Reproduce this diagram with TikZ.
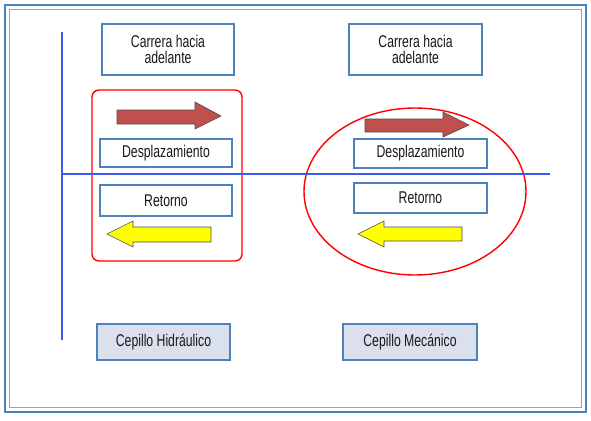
\documentclass[tikz,border=0pt]{standalone}
\usepackage{fontspec}
\setmainfont{Liberation Sans}[FakeStretch=0.72]
\definecolor{boxblue}{RGB}{79,129,189}
\definecolor{lineblue}{RGB}{60,90,240}
\definecolor{arrowred}{RGB}{192,80,77}
\definecolor{arrowyel}{RGB}{255,255,0}
\definecolor{boxfill}{RGB}{218,224,236}
\begin{document}
\begin{tikzpicture}[x=1pt,y=-1pt,
  tbox/.style={draw=boxblue,line width=2.2pt,fill=white,align=center,inner sep=0pt,
    font=\fontsize{17}{16}\selectfont,text=black!90},
  fbox/.style={tbox,fill=boxfill},
  redline/.style={draw=red,line width=1.4pt},
  axis/.style={draw=lineblue,line width=1.3pt},
  arr/.style={draw=black!70,line width=0.6pt}]
\useasboundingbox (0,0) rectangle (591,420);
% frame
\draw[boxblue,line width=2.2pt] (5,5) rectangle (586,412);
\draw[boxblue!70,line width=0.8pt] (9.5,9.5) rectangle (581.5,407.5);
% red groups
\draw[redline,rounded corners=7pt] (92,90) rectangle (242,261);
\draw[redline] (415,191.5) ellipse [x radius=111,y radius=83.5];
% axes
\coordinate (vtop) at (62,32);
\coordinate (vbot) at (62,340);
\coordinate (hl) at (62,174);
\coordinate (hr) at (550,174);
\draw[axis] (vtop) -- (vbot);
\draw[axis] (hl) -- (hr);
% boxes
\node[tbox,minimum width=132pt,minimum height=51pt] (c1) at (168,49.5) {Carrera hacia\\adelante};
\node[tbox,minimum width=133pt,minimum height=51pt] (c2) at (415.5,49.5) {Carrera hacia\\adelante};
\node[tbox,minimum width=132pt,minimum height=28pt] (d1) at (166,153) {Desplazamiento};
\node[tbox,minimum width=133pt,minimum height=29pt] (d2) at (420.5,153.5) {Desplazamiento};
\node[tbox,minimum width=132pt,minimum height=31pt] (r1) at (166,200.5) {Retorno};
\node[tbox,minimum width=133pt,minimum height=30pt] (r2) at (420.5,198) {Retorno};
\node[fbox,minimum width=133pt,minimum height=36pt] (h1) at (163.5,342) {Cepillo Hidráulico};
\node[fbox,minimum width=134pt,minimum height=36pt] (h2) at (410,342) {Cepillo Mecánico};
% red arrows (right)
\filldraw[arr,fill=arrowred] (117,110) -- (195,110) -- (195,102) -- (221,116) -- (195,129) -- (195,124) -- (117,124) -- cycle;
\filldraw[arr,fill=arrowred] (365,119) -- (443,119) -- (443,112) -- (469,125) -- (443,137) -- (443,132) -- (365,132) -- cycle;
% yellow arrows (left)
\filldraw[arr,fill=arrowyel] (107,234) -- (133,221) -- (133,227) -- (211,227) -- (211,242) -- (133,242) -- (133,247) -- cycle;
\filldraw[arr,fill=arrowyel] (358,234) -- (384,221) -- (384,227) -- (462,227) -- (462,241) -- (384,241) -- (384,247) -- cycle;
\end{tikzpicture}
\end{document}
